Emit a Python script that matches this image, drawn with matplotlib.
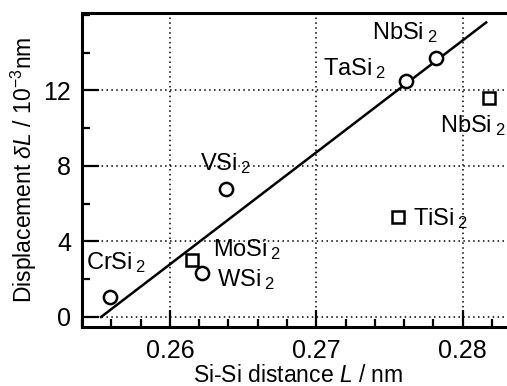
import matplotlib
matplotlib.use("Agg")
from matplotlib import pyplot as plt
from matplotlib.ticker import MultipleLocator

# Data
circle_names = ['CrSi', 'WSi', 'VSi', 'TaSi', 'NbSi']
circle_x = [0.2559, 0.2622, 0.2638, 0.2761, 0.2782]
circle_y = [1.06, 2.35, 6.8, 12.5, 13.74]

square_names = ['MoSi', 'TiSi', 'NbSi']
square_x = [0.2615, 0.2756, 0.2818]
square_y = [3.0, 5.3, 11.6]

fit_x = [0.2553, 0.2816]
fit_y = [0.0, 15.6]

x_ticks = [0.26, 0.27, 0.28]
y_ticks = [0, 4, 8, 12]

# label anchors (left, centre) in data units
circle_label_pos = [(0.25427, 2.9), (0.2632, 1.96), (0.26205, 8.15), (0.27045, 13.17), (0.2738, 15.08)]
square_label_pos = [(0.26294, 3.55), (0.27659, 5.24), (0.27845, 10.16)]

plt.rcParams['font.family'] = ['Liberation Sans', 'DejaVu Sans']
plt.rcParams['mathtext.fontset'] = 'custom'
plt.rcParams['mathtext.rm'] = 'Liberation Sans'
plt.rcParams['mathtext.it'] = 'Liberation Sans:italic'

fig = plt.figure(figsize=(5.07, 3.86), dpi=100)
ax = fig.add_axes([82 / 507, 59 / 386, 432 / 507, 314 / 386])
ax.set_xlim(0.254, 0.2835)
ax.set_ylim(-0.53, 16.1)

ax.grid(True, color='black', linestyle=(0, (1, 2.2)), linewidth=1.1)
ax.set_axisbelow(True)

ax.plot(fit_x, fit_y, color='black', linewidth=1.8, zorder=3)
ax.plot(circle_x, circle_y, 'o', markersize=9.5, markerfacecolor='white',
        markeredgecolor='black', markeredgewidth=1.8, zorder=4)
ax.plot(square_x, square_y, 's', markersize=8.5, markerfacecolor='white',
        markeredgecolor='black', markeredgewidth=1.8, zorder=4)

for name, (lx, ly) in zip(circle_names + square_names, circle_label_pos + square_label_pos):
    ax.text(lx, ly, name + r'$_{\;2}$', fontsize=17, ha='left', va='center')

ax.set_xticks(x_ticks)
ax.set_xticklabels(['%.2f' % v for v in x_ticks])
ax.set_yticks(y_ticks)
ax.xaxis.set_minor_locator(MultipleLocator(0.002))
ax.yaxis.set_minor_locator(MultipleLocator(2))

ax.tick_params(which='major', direction='in', length=12, width=1.6, labelsize=18, pad=8)
ax.tick_params(which='minor', direction='in', length=6, width=1.6)
ax.tick_params(axis='x', which='major', pad=9)

for side in ['left', 'bottom', 'top']:
    ax.spines[side].set_linewidth(2.2)
ax.spines['right'].set_visible(False)

ax.set_xlabel(r'Si-Si distance $\mathit{L}$ / nm', fontsize=16.5, labelpad=0)
ax.set_ylabel(r'Displacement $\delta\mathit{L}$ / 10$^{-3}$nm', fontsize=16.5, labelpad=3)

fig.savefig('out.png', dpi=100)
